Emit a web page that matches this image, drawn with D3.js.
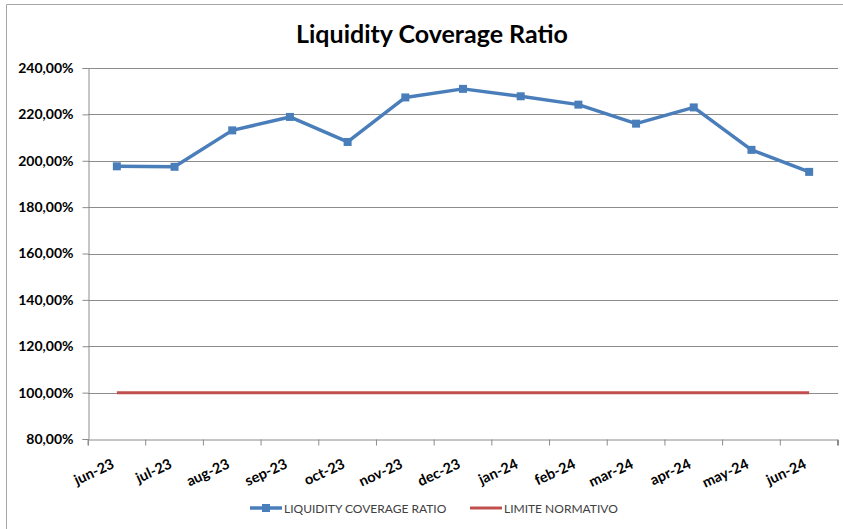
<!DOCTYPE html>
<html>
<head>
<meta charset="utf-8">
<script src="https://cdn.jsdelivr.net/npm/d3@7/dist/d3.min.js"></script>
<style>
  body { margin: 0; background: #fff; }
  svg { display: block; }
</style>
</head>
<body>
<svg id="chart" width="843" height="529"></svg>
<script>
const categories = ["jun-23","jul-23","aug-23","sep-23","oct-23","nov-23","dec-23","jan-24","feb-24","mar-24","apr-24","may-24","jun-24"];
const lcrValues = [197.6, 197.4, 213.1, 218.9, 208.1, 227.3, 231.0, 227.8, 224.2, 216.0, 223.0, 204.7, 195.2];
const limitValues = [100,100,100,100,100,100,100,100,100,100,100,100,100];
const yTicks = [80,100,120,140,160,180,200,220,240];
const seriesNames = ["LIQUIDITY COVERAGE RATIO", "LIMITE NORMATIVO"];
const title = "Liquidity Coverage Ratio";

const svg = d3.select("#chart");
const W = 843, H = 529;
const m = {left: 88, top: 68};
const plotRight = 838, plotBottom = 439;

const FONT = "Lato, 'Open Sans', sans-serif";

// chart border
svg.append("path").attr("d", `M6.5,${H} L6.5,4.5 L${W},4.5`).attr("fill","none").attr("stroke","#a6a6a6").attr("stroke-width",1);

const x = d3.scaleBand().domain(categories).range([m.left, plotRight]);
const y = d3.scaleLinear().domain([80,240]).range([plotBottom, m.top]);

// gridlines
svg.append("g").selectAll("line").data(yTicks.filter(t => t > 80)).join("line")
  .attr("x1", m.left).attr("x2", plotRight)
  .attr("y1", d => Math.round(y(d)) + 0.5).attr("y2", d => Math.round(y(d)) + 0.5)
  .attr("stroke", "#8c8c8c").attr("stroke-width", 1);

// y axis
const fmt = d => d.toFixed(2).replace(".", ",") + "%";
const yAxis = svg.append("g").attr("transform", `translate(${m.left + 0.5},0)`)
  .call(d3.axisLeft(y).tickValues(yTicks).tickFormat(fmt).tickSize(6).tickPadding(9));
yAxis.select(".domain").attr("stroke", "#8c8c8c");
yAxis.selectAll(".tick line").attr("stroke", "#8c8c8c");
yAxis.selectAll(".tick text").attr("font-family", FONT).attr("font-weight", "bold").attr("font-size", 14).attr("fill", "#000");

// x axis
const xAxis = svg.append("g").attr("transform", `translate(0,${plotBottom + 0.5})`)
  .call(d3.axisBottom(x).tickSize(6).tickFormat(""));
xAxis.select(".domain").attr("stroke", "#8c8c8c");
xAxis.selectAll(".tick line").attr("stroke", "#8c8c8c").attr("transform", `translate(${-x.bandwidth()/2},0)`);
xAxis.append("line").attr("x1", plotRight - 0.5).attr("x2", plotRight - 0.5).attr("y1", 0).attr("y2", 6).attr("stroke", "#8c8c8c");

// x labels
svg.append("g").selectAll("text").data(categories).join("text")
  .attr("transform", d => `translate(${x(d) + x.bandwidth()/2 - 6},${plotBottom + 19}) rotate(-25)`)
  .attr("text-anchor", "end").attr("dy", "0.71em")
  .attr("font-family", FONT).attr("font-weight", "bold").attr("font-size", 14.5).attr("fill", "#000")
  .text(d => d);

const cx = d => x(d) + x.bandwidth()/2;

// limit line
svg.append("path").datum(limitValues)
  .attr("d", d3.line().x((d,i) => cx(categories[i])).y(d => y(d)))
  .attr("fill","none").attr("stroke","#c0504d").attr("stroke-width",3);

// LCR line
svg.append("path").datum(lcrValues)
  .attr("d", d3.line().x((d,i) => cx(categories[i])).y(d => y(d)))
  .attr("fill","none").attr("stroke","#4a7ebb").attr("stroke-width",3.5).attr("stroke-linejoin","round");

svg.append("g").selectAll("rect").data(lcrValues).join("rect")
  .attr("x", (d,i) => cx(categories[i]) - 4).attr("y", d => y(d) - 4)
  .attr("width", 8).attr("height", 8).attr("fill", "#4a7ebb");

// title
svg.append("text").attr("x", 432).attr("y", 43).attr("text-anchor","middle")
  .attr("font-family", FONT).attr("font-weight","bold").attr("font-size", 25).attr("fill","#000")
  .text(title);

// legend
const lg = svg.append("g").attr("font-family", FONT).attr("font-size", 12).attr("fill", "#404040");
lg.append("line").attr("x1", 250).attr("x2", 282).attr("y1", 508).attr("y2", 508).attr("stroke","#4a7ebb").attr("stroke-width",3.5);
lg.append("rect").attr("x", 262).attr("y", 504).attr("width", 8).attr("height", 8).attr("fill","#4a7ebb");
lg.append("text").attr("x", 284).attr("y", 512.5).text(seriesNames[0]);
lg.append("line").attr("x1", 470).attr("x2", 502).attr("y1", 508).attr("y2", 508).attr("stroke","#c0504d").attr("stroke-width",3);
lg.append("text").attr("x", 504).attr("y", 512.5).text(seriesNames[1]);
</script>
</body>
</html>
